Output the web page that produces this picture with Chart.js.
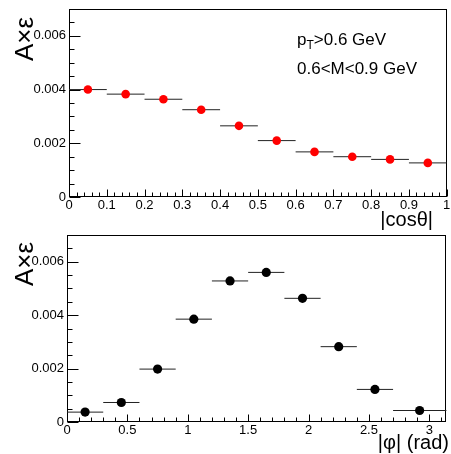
<!DOCTYPE html>
<html><head><meta charset="utf-8">
<script src="https://cdn.jsdelivr.net/npm/chart.js@4.4.1/dist/chart.umd.min.js"></script>
<style>
html,body{margin:0;padding:0;background:#fff;}
#wrap{position:relative;width:451px;height:454px;overflow:hidden;}
canvas{position:absolute;left:0;}
</style></head><body>
<div id="wrap">
<canvas id="c1" width="451" height="234" style="top:0px"></canvas>
<canvas id="c2" width="451" height="227" style="top:227px"></canvas>
</div>
<script>
// ---- data ----
const cosBinLo   = [0.0, 0.1, 0.2, 0.3, 0.4, 0.5, 0.6, 0.7, 0.8, 0.9];
const cosBinHi   = [0.1, 0.2, 0.3, 0.4, 0.5, 0.6, 0.7, 0.8, 0.9, 1.0];
const cosCenters = [0.05, 0.15, 0.25, 0.35, 0.45, 0.55, 0.65, 0.75, 0.85, 0.95];
const accCos     = [0.00400, 0.00383, 0.00364, 0.00325, 0.00265, 0.00210, 0.00168, 0.00150, 0.00140, 0.00127];

const phiBinLo   = [0.0, 0.3, 0.6, 0.9, 1.2, 1.5, 1.8, 2.1, 2.4, 2.7];
const phiBinHi   = [0.3, 0.6, 0.9, 1.2, 1.5, 1.8, 2.1, 2.4, 2.7, 3.1416];
const phiCenters = [0.15, 0.45, 0.75, 1.05, 1.35, 1.65, 1.95, 2.25, 2.55, 2.92];
const accPhi     = [0.00037, 0.00073, 0.00198, 0.00385, 0.00528, 0.00560, 0.00463, 0.00282, 0.00122, 0.00043];

const cosTicks      = [0, 0.1, 0.2, 0.3, 0.4, 0.5, 0.6, 0.7, 0.8, 0.9, 1];
const cosTickLabels = ['0','0.1','0.2','0.3','0.4','0.5','0.6','0.7','0.8','0.9','1'];
const phiTicks      = [0, 0.5, 1, 1.5, 2, 2.5, 3];
const phiTickLabels = ['0','0.5','1','1.5','2','2.5','3'];
const yTicks        = [0, 0.002, 0.004, 0.006];
const yTickLabels   = ['0','0.002','0.004','0.006'];

const yTitle   = 'A\u00D7\u03B5';
const cosTitle = '|cos\u03B8|';
const phiTitle = '|\u03C6| (rad)';
const label1a = 'p', label1sub = 'T', label1b = '>0.6 GeV';
const label2  = '0.6<M<0.9 GeV';

// ---- drawing ----
const FONT = "'Liberation Sans', Arial, Helvetica, sans-serif";
Chart.defaults.font.family = FONT;
Chart.defaults.color = '#000';

function range(a, b, step){ const r=[]; for(let v=a; v<=b+1e-9; v+=step) r.push(+v.toFixed(6)); return r; }

function rootPlugin(cfg){
  return {
    id: 'rootStyle',
    beforeDatasetsDraw(chart){
      const {ctx, chartArea:a, scales:{x, y}} = chart;
      ctx.save();
      ctx.strokeStyle = '#000';
      ctx.lineWidth = 1;
      const L = Math.round(a.left)+0.5, R = Math.round(a.right)-0.5;
      const T = Math.round(a.top)+0.5, B = Math.round(a.bottom)-0.5;
      ctx.strokeRect(L, T, R-L, B-T);
      ctx.beginPath();
      cfg.yMinor.forEach(v => {
        const py = Math.round(y.getPixelForValue(v))+0.5;
        const major = Math.abs(v/0.002 - Math.round(v/0.002)) < 1e-6;
        ctx.moveTo(L, py); ctx.lineTo(L + (major ? 11 : 5), py);
      });
      cfg.xMinor.forEach(v => {
        const px = Math.round(x.getPixelForValue(v))+0.5;
        const major = Math.abs(v/cfg.xMajorStep - Math.round(v/cfg.xMajorStep)) < 1e-6;
        ctx.moveTo(px, B); ctx.lineTo(px, B - (major ? 7 : 4));
      });
      ctx.stroke();
      // horizontal error bars (bin widths)
      ctx.strokeStyle = '#222';
      ctx.beginPath();
      cfg.lo.forEach((lo, i) => {
        const py = y.getPixelForValue(cfg.vals[i]);
        ctx.moveTo(x.getPixelForValue(lo), py);
        ctx.lineTo(x.getPixelForValue(cfg.hi[i]), py);
      });
      ctx.stroke();
      ctx.restore();
    },
    afterDraw(chart){
      const ctx = chart.ctx;
      ctx.save();
      ctx.fillStyle = '#000';
      ctx.save();
      ctx.translate(cfg.yTitleX, cfg.yTitleY);
      ctx.rotate(-Math.PI/2);
      ctx.font = '26px ' + FONT;
      ctx.textAlign = 'right';
      ctx.textBaseline = 'alphabetic';
      ctx.fillText(yTitle, 0, 0);
      ctx.restore();
      ctx.font = '20px ' + FONT;
      ctx.textAlign = 'right';
      ctx.textBaseline = 'alphabetic';
      ctx.fillText(cfg.xTitle, cfg.xTitleX, cfg.xTitleY, cfg.xTitleW);
      if (cfg.notes) {
        ctx.textAlign = 'left';
        ctx.font = '17px ' + FONT;
        let xx = 297;
        ctx.fillText(label1a, xx, 45); xx += ctx.measureText(label1a).width;
        ctx.font = '12px ' + FONT;
        ctx.fillText(label1sub, xx, 49); xx += ctx.measureText(label1sub).width;
        ctx.font = '17px ' + FONT;
        ctx.fillText(label1b, xx, 45);
        ctx.fillText(label2, 297, 74);
      }
      ctx.restore();
    }
  };
}

function makeChart(id, opts){
  const pts = opts.centers.map((c, i) => ({x: c, y: opts.vals[i]}));
  return new Chart(document.getElementById(id), {
    type: 'scatter',
    data: { datasets: [{ data: pts, pointRadius: opts.r, pointHoverRadius: opts.r,
      backgroundColor: opts.color, borderColor: opts.color, borderWidth: 0 }] },
    options: {
      responsive: false, animation: false, devicePixelRatio: 1,
      events: [],
      layout: { padding: opts.padding },
      plugins: { legend: {display: false}, tooltip: {enabled: false} },
      scales: {
        x: {
          type: 'linear', min: opts.xMin, max: opts.xMax,
          grid: {display: false, drawTicks: false}, border: {display: false},
          afterBuildTicks: s => { s.ticks = opts.xTicks.map(v => ({value: v})); },
          afterFit: s => { s.height = opts.xHeight; s.paddingLeft = 0; s.paddingRight = 0; },
          ticks: { autoSkip: false, maxRotation: 0, padding: 1, font: {size: 13},
                   callback: (v, i) => opts.xLabels[i] }
        },
        y: {
          type: 'linear', min: 0, max: 0.007,
          grid: {display: false, drawTicks: false}, border: {display: false},
          afterBuildTicks: s => { s.ticks = yTicks.map(v => ({value: v})); },
          afterFit: s => { s.width = opts.yWidth; s.paddingTop = 0; s.paddingBottom = 0; },
          ticks: { autoSkip: false, padding: 3, font: {size: 13},
                   callback: (v, i) => yTickLabels[i] }
        }
      }
    },
    plugins: [rootPlugin({
      lo: opts.lo, hi: opts.hi, vals: opts.vals,
      yMinor: range(0, 0.007, 0.0005),
      xMinor: opts.xMinor, xMajorStep: opts.xMajorStep,
      xTitle: opts.xTitle, xTitleX: opts.xTitleX, xTitleY: opts.xTitleY, xTitleW: opts.xTitleW,
      yTitleX: opts.yTitleX, yTitleY: opts.yTitleY, notes: opts.notes
    })]
  });
}

makeChart('c1', {
  centers: cosCenters, vals: accCos, lo: cosBinLo, hi: cosBinHi,
  color: '#ff0000', r: 4.3,
  xMin: 0, xMax: 1, xTicks: cosTicks, xLabels: cosTickLabels,
  xMinor: range(0, 1, 0.02), xMajorStep: 0.1,
  padding: {top: 9, right: 3, left: 0, bottom: 0},
  yWidth: 69, xHeight: 37,
  xTitle: cosTitle, xTitleX: 433, xTitleY: 226, xTitleW: 60,
  yTitleX: 33, yTitleY: 17, notes: true
});

makeChart('c2', {
  centers: phiCenters, vals: accPhi, lo: phiBinLo, hi: phiBinHi,
  color: '#000000', r: 4.6,
  xMin: 0, xMax: 3.1416, xTicks: phiTicks, xLabels: phiTickLabels,
  xMinor: range(0, 3.1, 0.1), xMajorStep: 0.5,
  padding: {top: 8, right: 2, left: 0, bottom: 0},
  yWidth: 67, xHeight: 32,
  xTitle: phiTitle, xTitleX: 449, xTitleY: 222, xTitleW: 72,
  yTitleX: 33, yTitleY: 15, notes: false
});
</script>
</body></html>
